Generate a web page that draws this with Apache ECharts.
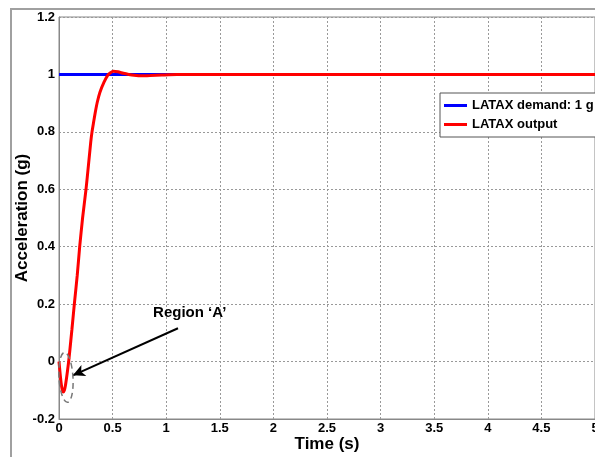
<!DOCTYPE html>
<html><head><meta charset="utf-8">
<script src="https://cdn.jsdelivr.net/npm/echarts@6/dist/echarts.min.js"></script>
<style>html,body{margin:0;padding:0;background:#fff}#c{width:595px;height:457px}</style>
</head><body><div id="c"></div>
<script>
var xTicks = [0, 0.5, 1, 1.5, 2, 2.5, 3, 3.5, 4, 4.5, 5];
var yTicks = [-0.2, 0, 0.2, 0.4, 0.6, 0.8, 1, 1.2];
var demandTime = [0, 5];
var demandValue = [1, 1];
var outTime = [0, 0.01, 0.02, 0.03, 0.04, 0.05, 0.06, 0.07, 0.08, 0.09, 0.1, 0.12, 0.143, 0.17, 0.193, 0.22, 0.252, 0.275, 0.296, 0.308, 0.323, 0.339, 0.357, 0.382, 0.42, 0.454, 0.48, 0.507, 0.55, 0.6, 0.65, 0.7, 0.77, 0.85, 0.96, 1.1, 5];
var outValue = [0, -0.04, -0.075, -0.098, -0.106, -0.1, -0.083, -0.058, -0.03, 0, 0.035, 0.11, 0.2, 0.3, 0.4, 0.5, 0.6, 0.685, 0.764, 0.8, 0.834, 0.869, 0.903, 0.938, 0.973, 0.997, 1.006, 1.011, 1.009, 1.004, 1.0, 0.997, 0.995, 0.996, 0.998, 1.0, 1.0];
var legendNames = ['LATAX demand: 1 g', 'LATAX output'];
var regionLabel = 'Region \u2018A\u2019';
var arrowFrom = [1.11, 0.116];
var arrowTo = [0.13, -0.048];
var labelAt = [1.22, 0.168];
var ellipseCenter = [0.065, -0.055];

function zip(a, b) { return a.map(function (v, i) { return [v, b[i]]; }); }

var chart = echarts.init(document.getElementById('c'), null, {renderer: 'canvas'});
var font = 'Liberation Sans, Arial, sans-serif';
chart.setOption({
  animation: false,
  backgroundColor: '#fff',
  grid: {left: 59, top: 17, right: 0, bottom: 38, containLabel: false, outerBoundsMode: 'none',
         show: true, borderColor: '#888', borderWidth: 1},
  legend: {
    orient: 'vertical', left: 440, top: 93,
    data: legendNames,
    icon: 'rect', itemWidth: 23, itemHeight: 3, itemGap: 6,
    padding: [6, 5, 6, 4],
    backgroundColor: '#fff', borderColor: '#555', borderWidth: 1,
    textStyle: {fontFamily: font, fontWeight: 'bold', fontSize: 13, color: '#000'}
  },
  xAxis: {
    type: 'value', min: xTicks[0], max: xTicks[xTicks.length - 1], interval: 0.5,
    name: 'Time (s)', nameLocation: 'middle', nameGap: 17, nameMoveOverlap: false,
    nameTextStyle: {fontFamily: font, fontWeight: 'bold', fontSize: 17, color: '#000'},
    axisLine: {show: true, onZero: false, lineStyle: {color: '#888', width: 1}},
    axisTick: {show: false},
    axisLabel: {fontFamily: font, fontWeight: 'bold', fontSize: 13, color: '#000', margin: 3},
    splitLine: {show: true, lineStyle: {color: '#999', type: [2, 2], width: 1}}
  },
  yAxis: {
    type: 'value', min: yTicks[0], max: yTicks[yTicks.length - 1], interval: 0.2,
    name: 'Acceleration (g)', nameLocation: 'middle', nameGap: 28, nameMoveOverlap: false,
    nameTextStyle: {fontFamily: font, fontWeight: 'bold', fontSize: 17, color: '#000'},
    axisLine: {show: true, onZero: false, lineStyle: {color: '#888', width: 1}},
    axisTick: {show: false},
    axisLabel: {fontFamily: font, fontWeight: 'bold', fontSize: 13, color: '#000', margin: 4},
    splitLine: {show: true, lineStyle: {color: '#999', type: [2, 2], width: 1}}
  },
  series: [
    {name: legendNames[0], type: 'line', data: zip(demandTime, demandValue), showSymbol: false,
     lineStyle: {color: '#0000ff', width: 3}, itemStyle: {color: '#0000ff'}, z: 2},
    {name: legendNames[1], type: 'line', data: zip(outTime, outValue), showSymbol: false, smooth: 0.2,
     lineStyle: {color: '#ff0000', width: 3}, itemStyle: {color: '#ff0000'}, z: 3,
     markLine: {silent: true, symbol: ['none', 'arrow'], symbolSize: [9, 12],
       lineStyle: {color: '#000', width: 2, type: 'solid'}, label: {show: false},
       data: [[{coord: arrowFrom}, {coord: arrowTo}]]},
     markPoint: {silent: true, symbol: 'rect', symbolSize: 1, itemStyle: {color: 'rgba(0,0,0,0)'},
       label: {show: true, position: 'inside', formatter: regionLabel, fontFamily: font, fontWeight: 'bold', fontSize: 15, color: '#000'},
       data: [{coord: labelAt}]}
    }
  ]
});
var c = chart.convertToPixel({gridIndex: 0}, ellipseCenter);
chart.setOption({
  graphic: [
    {type: 'ellipse', shape: {cx: c[0], cy: c[1], rx: 7, ry: 25}, rotation: 0.06, originX: c[0], originY: c[1],
     style: {fill: 'none', stroke: '#777', lineWidth: 1.5, lineDash: [6, 4]}, z: 10},
    {type: 'polyline', shape: {points: [[11, 470], [11, 9], [610, 9]]}, style: {stroke: '#a0a0a0', lineWidth: 2, fill: 'none'}, z: 10}
  ]
});
</script></body></html>
